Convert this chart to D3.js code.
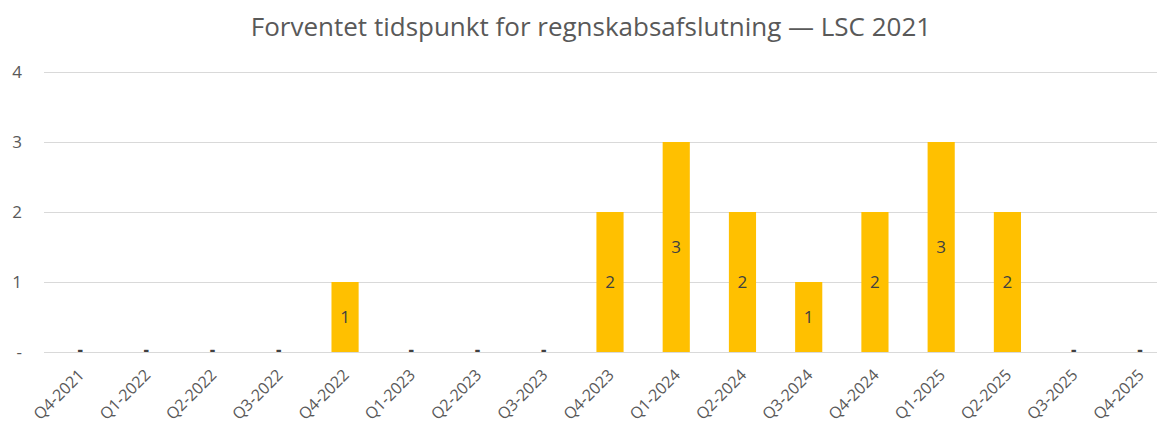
<!DOCTYPE html>
<html>
<head>
<meta charset="utf-8">
<script src="https://cdn.jsdelivr.net/npm/d3@7"></script>
<style>
  body { margin: 0; background: #fff; }
  svg { display: block; font-family: "Open Sans", sans-serif; }
</style>
</head>
<body>
<svg width="1157" height="427"></svg>
<script>
// data
let kvartaler = ["Q4-2021", "Q1-2022", "Q2-2022", "Q3-2022", "Q4-2022", "Q1-2023", "Q2-2023",
  "Q3-2023", "Q4-2023", "Q1-2024", "Q2-2024", "Q3-2024", "Q4-2024", "Q1-2025", "Q2-2025",
  "Q3-2025", "Q4-2025"];
let antal = [0, 0, 0, 0, 1, 0, 0, 0, 2, 3, 2, 1, 2, 3, 2, 0, 0];
let yTicks = [0, 1, 2, 3, 4];
let titel = "Forventet tidspunkt for regnskabsafslutning \u2014 LSC 2021";

let svg = d3.select("svg");
let W = 1157;

// skalaer
let x = d3.scaleBand()
  .domain(kvartaler)
  .range([47, 1173])
  .paddingInner(0.59)
  .paddingOuter(0.295);

let y = d3.scaleLinear()
  .domain([0, 4])
  .range([352, 72]);

let fmt = d => d === 0 ? "-" : d3.format("d")(d);

// titel
svg.append("text")
  .attr("x", 591)
  .attr("y", 36)
  .attr("text-anchor", "middle")
  .attr("fill", "#595959")
  .style("font-size", "26px")
  .text(titel);

// gitterlinjer + y-akse
let yAxis = d3.axisLeft(y)
  .tickValues(yTicks)
  .tickFormat(fmt)
  .tickSize(-(W - 44))
  .tickPadding(22);

let gy = svg.append("g")
  .attr("transform", "translate(44,0)")
  .call(yAxis);
gy.select(".domain").remove();
gy.selectAll(".tick line").attr("stroke", "#d9d9d9").attr("stroke-width", 1);
gy.selectAll(".tick text")
  .attr("fill", "#595959")
  .style("font-size", "17px")
  .style("font-family", "Open Sans, sans-serif");

// søjler
svg.selectAll(".bar")
  .data(antal.map((v, i) => ({ k: kvartaler[i], v: v })))
  .enter()
  .append("rect")
  .attr("class", "bar")
  .attr("x", d => x(d.k))
  .attr("y", d => y(d.v))
  .attr("width", x.bandwidth())
  .attr("height", d => y(0) - y(d.v))
  .attr("fill", "#ffc000");

// dataetiketter
svg.selectAll(".lbl")
  .data(antal.map((v, i) => ({ k: kvartaler[i], v: v })))
  .enter()
  .append("text")
  .attr("class", "lbl")
  .attr("x", d => x(d.k) + x.bandwidth() / 2)
  .attr("y", d => d.v === 0 ? y(0) - 1 : (y(d.v) + y(0)) / 2)
  .attr("dy", d => d.v === 0 ? "0.3em" : "0.35em")
  .attr("text-anchor", "middle")
  .attr("fill", "#404040")
  .style("font-size", "17px")
  .style("font-weight", d => d.v === 0 ? "bold" : "normal")
  .text(d => fmt(d.v));

// x-akse
let gx = svg.append("g")
  .attr("transform", `translate(0,${y(0)})`)
  .call(d3.axisBottom(x).tickSize(0).tickPadding(0));
gx.select(".domain").remove();
gx.selectAll(".tick text")
  .attr("fill", "#595959")
  .style("font-size", "16px")
  .style("font-family", "Open Sans, sans-serif")
  .attr("text-anchor", "end")
  .attr("dy", null)
  .attr("y", null)
  .attr("transform", "translate(5,24) rotate(-45)");
</script>
</body>
</html>
